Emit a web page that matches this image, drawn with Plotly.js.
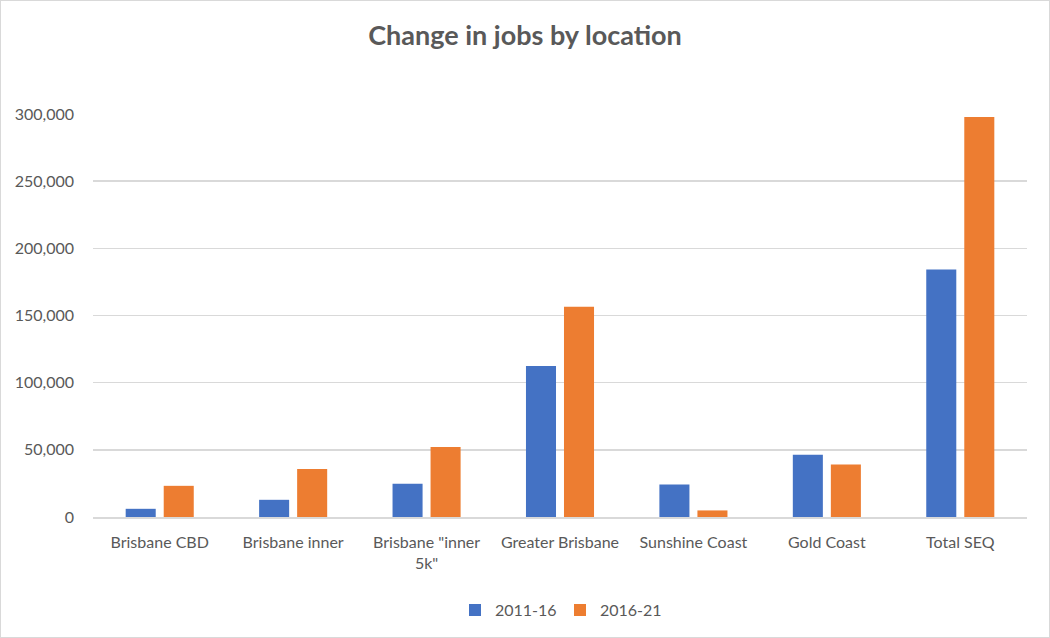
<!DOCTYPE html>
<html>
<head>
<meta charset="utf-8">
<script src="https://cdn.plot.ly/plotly-3.0.1.min.js"></script>
<style>
  html, body { margin: 0; padding: 0; background: #ffffff; }
  #frame { position: absolute; left: 0; top: 0; width: 1050px; height: 638px; box-sizing: border-box; border: 1px solid #d9d9d9; }
  #chart { position: absolute; left: 0; top: 0; width: 1050px; height: 638px; }
</style>
</head>
<body>
<div id="chart"></div>
<div id="frame"></div>
<script>
const categories = ["Brisbane CBD", "Brisbane inner", "Brisbane \"inner<br>5k\"", "Greater Brisbane", "Sunshine Coast", "Gold Coast", "Total SEQ"];
const series2011_16 = [6100, 12800, 24700, 112400, 24200, 46400, 184200];
const series2016_21 = [23200, 35800, 52100, 156500, 4900, 39000, 297800];
const seriesNames = ["2011-16", "2016-21"];
const yTickVals = [0, 50000, 100000, 150000, 200000, 250000, 300000];
const yTickText = ["0", "50,000", "100,000", "150,000", "200,000", "250,000", "300,000"];

const FONT = "Lato, 'Open Sans', sans-serif";
const data = [
  { type: "bar", name: seriesNames[0], x: categories, y: series2011_16, marker: { color: "#4472c4" }, hoverinfo: "x+y" },
  { type: "bar", name: seriesNames[1], x: categories, y: series2016_21, marker: { color: "#ed7d31" }, hoverinfo: "x+y" }
];
const layout = {
  width: 1050, height: 638,
  paper_bgcolor: "#ffffff", plot_bgcolor: "#ffffff",
  margin: { l: 93, r: 23, t: 114, b: 120 },
  font: { family: FONT, color: "#595959", size: 16 },
  title: { text: "<b>Change in jobs by location</b>", x: 0.5, xanchor: "center", y: 0.945, yanchor: "middle", font: { family: FONT, size: 27, color: "#595959" } },
  barmode: "group", bargap: 0.43, bargroupgap: 0.21,
  xaxis: { type: "category", tickfont: { family: FONT, size: 16, color: "#595959" }, showline: true, linecolor: "#d9d9d9", linewidth: 1.5, ticks: "", showgrid: false, automargin: false, ticklabelstandoff: 10 },
  yaxis: { range: [0, 300000], tickvals: yTickVals, ticktext: yTickText, tickfont: { family: FONT, size: 16, color: "#595959" }, showgrid: true, gridcolor: "#d9d9d9", gridwidth: 1.5, zeroline: false, showline: false, ticks: "", ticklabelstandoff: 18, automargin: false },
  showlegend: true,
  legend: { orientation: "h", x: 0.5, xanchor: "center", y: -0.228, yanchor: "middle", font: { family: FONT, size: 16, color: "#595959" }, itemwidth: 30, tracegroupgap: 0, entrywidth: 60, entrywidthmode: "pixels" }
};
Plotly.newPlot("chart", data, layout, { displayModeBar: false, staticPlot: true });
</script>
</body>
</html>
